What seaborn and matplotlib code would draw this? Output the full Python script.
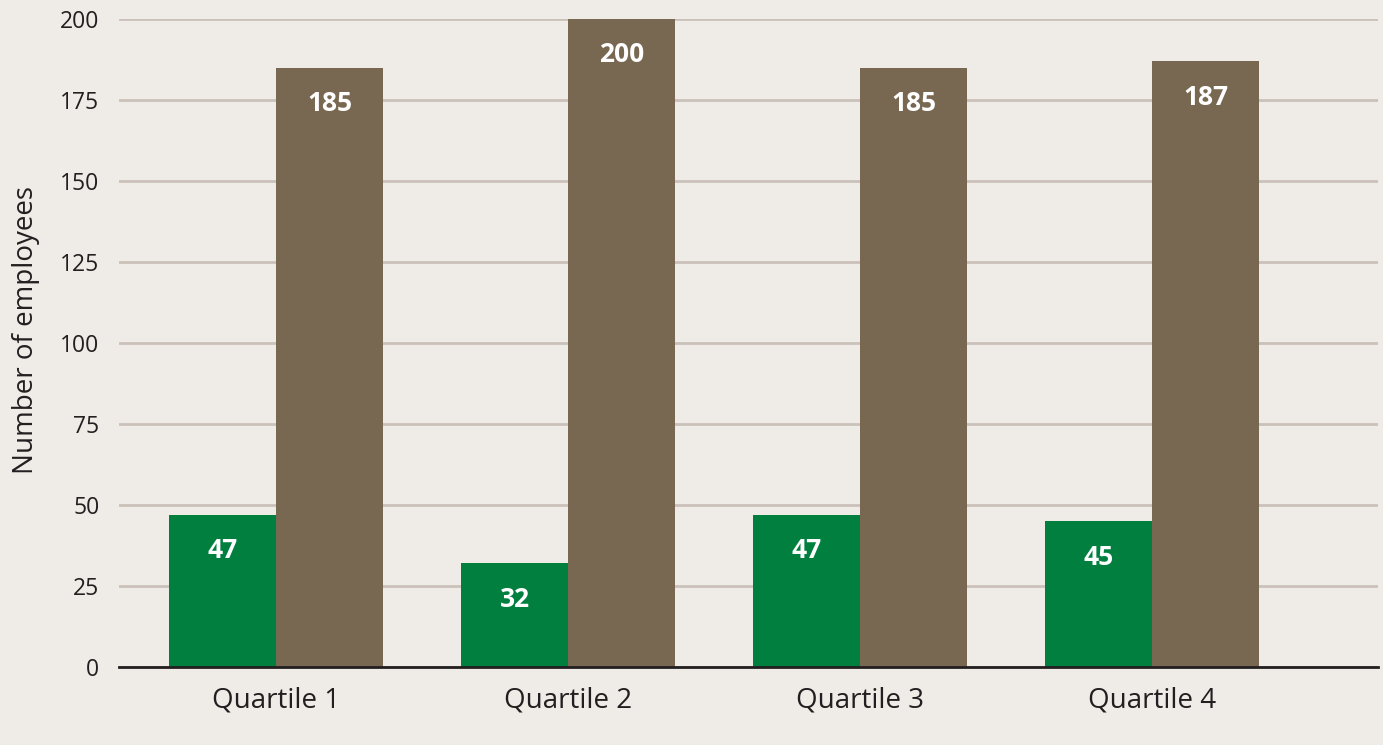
import matplotlib
matplotlib.use("Agg")
import matplotlib.pyplot as plt
import pandas as pd
import seaborn as sns

quartiles = ["Quartile 1", "Quartile 2", "Quartile 3", "Quartile 4"]
group_a = [47, 32, 47, 45]
group_b = [185, 200, 185, 187]
yticks = [0, 25, 50, 75, 100, 125, 150, 175, 200]

BG = "#efebe7"
GREEN = "#007f3f"
BROWN = "#786751"
GRID = "#cac2b9"


def main():
    df = pd.DataFrame({
        "quartile": quartiles * 2,
        "value": group_a + group_b,
        "group": ["A"] * len(quartiles) + ["B"] * len(quartiles),
    })

    sns.set_style("white")
    plt.rcParams["font.family"] = ["Open Sans", "DejaVu Sans"]

    fig = plt.figure(figsize=(13.83, 7.45), dpi=100, facecolor=BG)
    ax = fig.add_axes([0.086, 0.1047, 0.9104, 0.8698])
    ax.set_facecolor(BG)

    sns.barplot(data=df, x="quartile", y="value", hue="group",
                palette=[GREEN, BROWN], width=0.733, saturation=1,
                linewidth=0, legend=False, ax=ax, zorder=3)

    # white value labels inside the top of each bar
    for c in ax.containers:
        for p in c:
            h = p.get_height()
            ax.annotate(f"{h:.0f}", (p.get_x() + p.get_width() / 2, h),
                        xytext=(0, -36), textcoords="offset pixels",
                        ha="center", va="center", color="white",
                        fontsize=19, fontweight="bold", zorder=4)

    ax.set_ylim(0, 200)
    ax.set_xlim(-0.538, 3.774)
    ax.set_yticks(yticks)
    ax.yaxis.grid(True, color=GRID, linewidth=2, zorder=0)
    ax.set_axisbelow(True)
    for s in ["top", "right", "left"]:
        ax.spines[s].set_visible(False)
    ax.spines["bottom"].set_color("#231f20")
    ax.spines["bottom"].set_linewidth(2)
    ax.spines["bottom"].set_zorder(5)
    ax.tick_params(axis="both", length=0, colors="#231f20")
    ax.tick_params(axis="x", labelsize=20, pad=14)
    ax.tick_params(axis="y", labelsize=16.5, pad=14)
    ax.set_xlabel("")
    ax.set_ylabel("Number of employees", fontsize=20, color="#231f20")
    ax.yaxis.set_label_coords(-0.063, 0.52)

    fig.savefig("out.png", facecolor=BG)
    plt.close(fig)


if __name__ == "__main__":
    main()
